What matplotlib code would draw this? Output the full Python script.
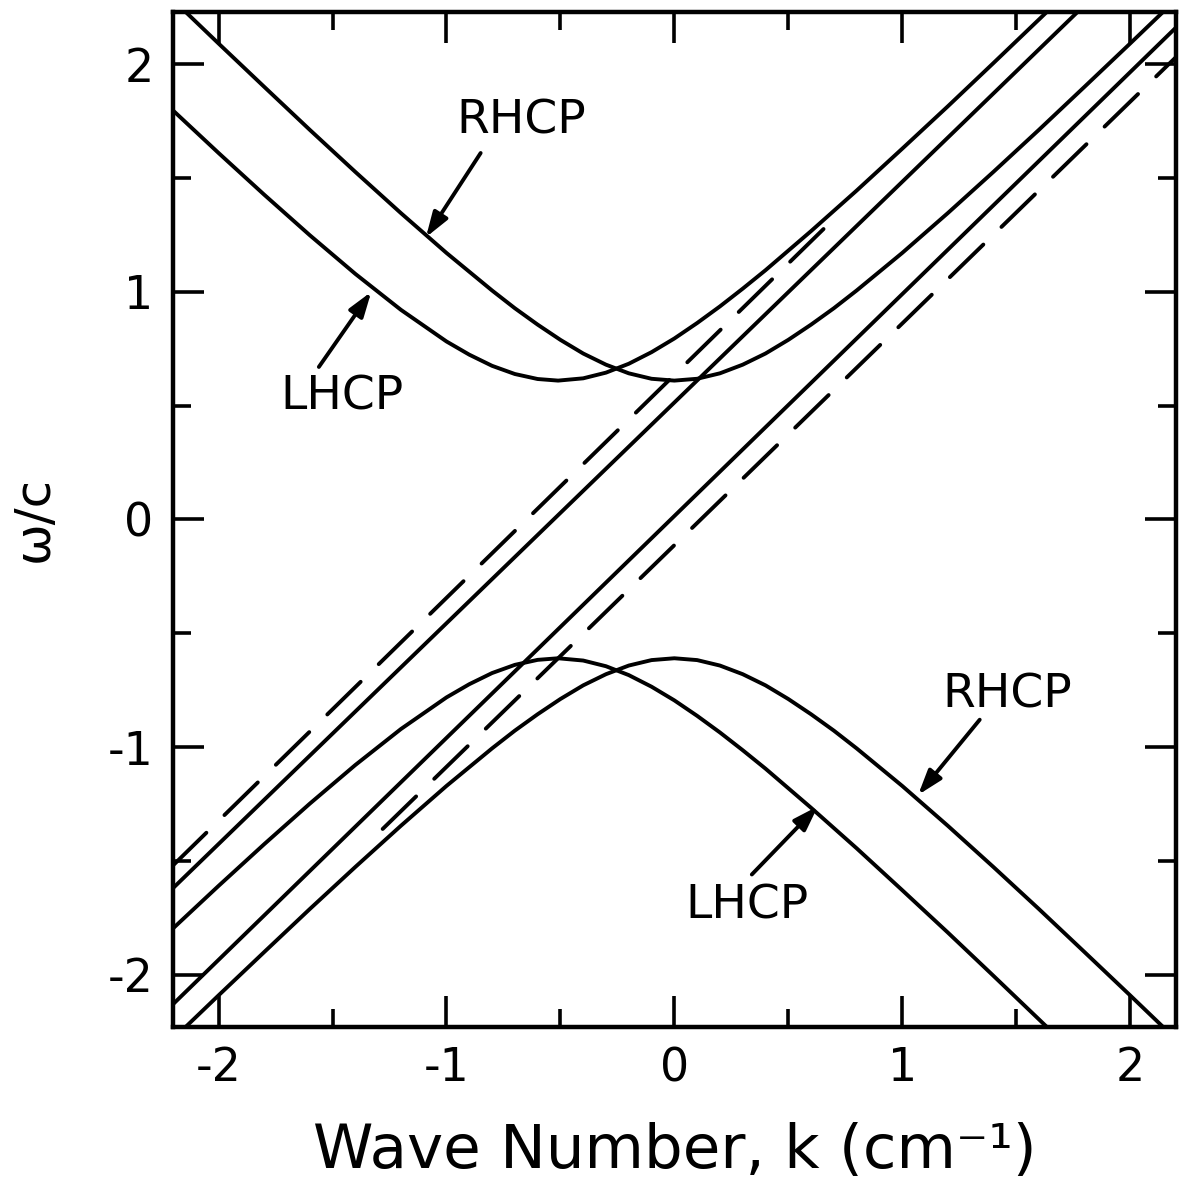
import matplotlib

matplotlib.use("Agg")
import matplotlib.pyplot as plt
from matplotlib.ticker import MultipleLocator

plt.rcParams["axes.unicode_minus"] = False
plt.rcParams["font.family"] = ["DejaVu Sans"]

# hyperbola branches (k in cm^-1, omega/c)
k_upper_lhcp = [-2.2, -2.0, -1.8, -1.6, -1.4, -1.2, -1.0, -0.9, -0.8, -0.7, -0.6, -0.51,
                -0.4, -0.3, -0.2, -0.1, 0.0, 0.1, 0.2, 0.3, 0.4, 0.6, 0.8, 1.0, 1.2, 1.4, 1.64]
w_upper_lhcp = [1.797, 1.610, 1.427, 1.249, 1.079, 0.921, 0.782, 0.724, 0.675, 0.639, 0.617, 0.610,
                0.620, 0.645, 0.684, 0.735, 0.795, 0.863, 0.936, 1.014, 1.095, 1.267, 1.445, 1.629,
                1.815, 2.005, 2.235]

k_upper_rhcp = [-2.15, -2.0, -1.8, -1.6, -1.4, -1.2, -1.0, -0.8, -0.7, -0.6, -0.5, -0.4, -0.3,
                -0.2, -0.1, 0.0, 0.1, 0.2, 0.3, 0.4, 0.5, 0.6, 0.7, 0.8, 1.0, 1.2, 1.4,
                1.6, 1.8, 2.0, 2.15]
w_upper_rhcp = [2.235, 2.091, 1.901, 1.712, 1.527, 1.346, 1.171, 1.006, 0.928, 0.856, 0.789, 0.729,
                0.680, 0.642, 0.618, 0.610, 0.618, 0.642, 0.680, 0.729, 0.789, 0.856, 0.928, 1.006,
                1.171, 1.346, 1.527, 1.712, 1.901, 2.091, 2.235]

k_lower_lhcp = k_upper_lhcp
w_lower_lhcp = [-1.797, -1.610, -1.427, -1.249, -1.079, -0.921, -0.782, -0.724, -0.675, -0.639,
                -0.617, -0.610, -0.620, -0.645, -0.684, -0.735, -0.795, -0.863, -0.936, -1.014,
                -1.095, -1.267, -1.445, -1.629, -1.815, -2.005, -2.235]

k_lower_rhcp = k_upper_rhcp
w_lower_rhcp = [-2.235, -2.091, -1.901, -1.712, -1.527, -1.346, -1.171, -1.006, -0.928, -0.856,
                -0.789, -0.729, -0.680, -0.642, -0.618, -0.610, -0.618, -0.642, -0.680, -0.729,
                -0.789, -0.856, -0.928, -1.006, -1.171, -1.346, -1.527, -1.712, -1.901, -2.091,
                -2.235]

# straight lines
k_solid_1 = [-2.2, 1.78]
w_solid_1 = [-1.62, 2.24]
k_solid_2 = [-2.2, 2.2]
w_solid_2 = [-2.13, 2.16]
k_dash_1 = [-2.2, 0.72]
w_dash_1 = [-1.52, 1.34]
k_dash_2 = [-1.28, 2.2]
w_dash_2 = [-1.36, 2.03]

# labels: (text, label pos, arrow tail, arrow head)
labels = [
    ("RHCP", (-0.67, 1.75), (-0.85, 1.61), (-1.09, 1.24)),
    ("LHCP", (-1.46, 0.54), (-1.56, 0.67), (-1.33, 1.00)),
    ("RHCP", (1.46, -0.77), (1.34, -0.88), (1.07, -1.21)),
    ("LHCP", (0.32, -1.70), (0.34, -1.56), (0.63, -1.26)),
]

xticks = [-2, -1, 0, 1, 2]
yticks = [-2, -1, 0, 1, 2]

fig = plt.figure(figsize=(11.81, 11.90), dpi=100)
ax = fig.add_axes([0.1465, 0.137, 0.849, 0.853])

lw = 2.8
for k, w in [(k_upper_lhcp, w_upper_lhcp), (k_upper_rhcp, w_upper_rhcp),
             (k_lower_lhcp, w_lower_lhcp), (k_lower_rhcp, w_lower_rhcp),
             (k_solid_1, w_solid_1), (k_solid_2, w_solid_2)]:
    ax.plot(k, w, color="black", lw=lw, solid_capstyle="round", solid_joinstyle="round")
for k, w in [(k_dash_1, w_dash_1), (k_dash_2, w_dash_2)]:
    ax.plot(k, w, color="black", lw=lw, dashes=(12, 6.5), dash_capstyle="round")

for text, pos, tail, head in labels:
    ax.text(pos[0], pos[1], text, fontsize=34, ha="center", va="center")
    ax.annotate("", xy=head, xytext=tail,
                arrowprops=dict(arrowstyle="-|>,head_length=1.5,head_width=0.5",
                                color="black", lw=2.8, shrinkA=0, shrinkB=0))

ax.set_xlim(-2.2, 2.2)
ax.set_ylim(-2.23, 2.23)
ax.set_xticks(xticks)
ax.set_yticks(yticks)
ax.xaxis.set_minor_locator(MultipleLocator(0.5))
ax.yaxis.set_minor_locator(MultipleLocator(0.5))
ax.tick_params(which="both", direction="in", top=True, right=True, width=2.6, labelsize=33, pad=14)
ax.tick_params(which="major", length=22)
ax.tick_params(which="minor", length=13)
for sp in ax.spines.values():
    sp.set_linewidth(3.2)

ax.set_xlabel("Wave Number, k (cm⁻¹)", fontsize=44, labelpad=22)
ax.set_ylabel("ω/c", fontsize=36, labelpad=36)

fig.savefig("out.png", dpi=100)
